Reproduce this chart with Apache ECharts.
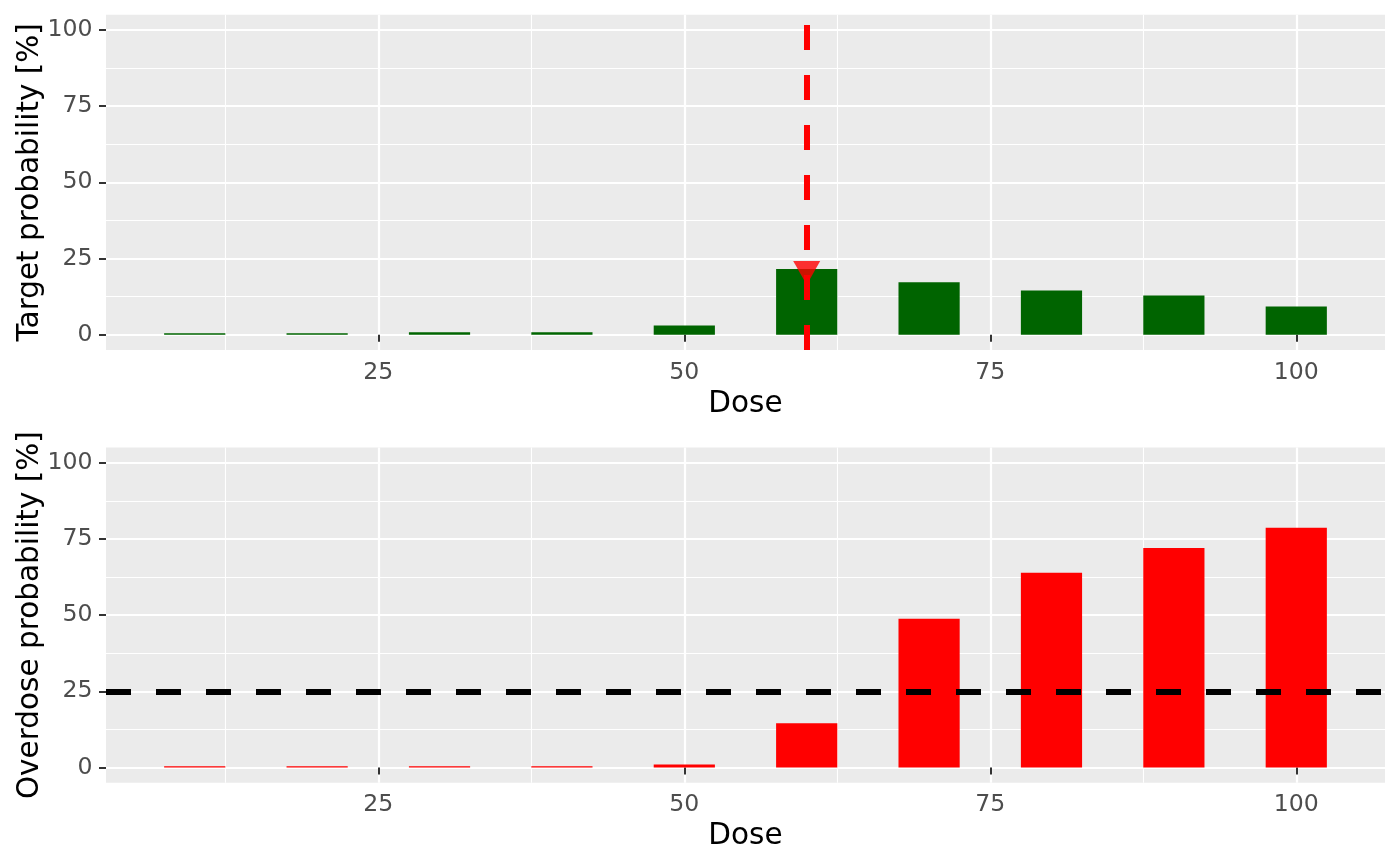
<!DOCTYPE html>
<html>
<head>
<meta charset="utf-8">
<title>Dose recommendation</title>
<script src="https://cdn.jsdelivr.net/npm/echarts@6/dist/echarts.min.js"></script>
<style>
    html, body { margin: 0; padding: 0; background: #fff; }
    #chart { width: 1400px; height: 866px; }
</style>
</head>
<body>
<div id="chart"></div>
<script>
// values (percent)
var doses = [10, 20, 30, 40, 50, 60, 70, 80, 90, 100];
var targetProb = [0.5, 0.5, 0.8, 0.8, 3.0, 21.6, 17.2, 14.5, 12.9, 9.3];
var overdoseProb = [0.4, 0.4, 0.4, 0.4, 1.0, 14.5, 48.8, 63.9, 72.0, 78.7];
var recommendedDose = 60;
var overdoseLimit = 25;
var doseTicks = [25, 50, 75, 100];
var probTicks = [0, 25, 50, 75, 100];

var FONT = 'DejaVu Sans';

function pairs(xs, ys) {
    return xs.map(function (x, i) { return [x, ys[i]]; });
}

function gridBox(top) {
    return {
        left: 106, right: 15, top: top, height: 335.3,
        show: true, backgroundColor: '#EBEBEB', borderWidth: 0,
        containLabel: false, outerBoundsMode: 'none'
    };
}

function doseAxis(gridIndex) {
    return {
        type: 'value', gridIndex: gridIndex,
        min: 2.75, max: 107.25, minInterval: 25, maxInterval: 25,
        name: 'Dose', nameLocation: 'middle', nameGap: 39, nameMoveOverlap: false,
        nameTextStyle: { fontFamily: FONT, fontSize: 29.5, color: '#000' },
        axisLine: { show: false },
        axisTick: { show: true, length: 7, customValues: doseTicks, lineStyle: { color: '#333333', width: 2 } },
        axisLabel: { customValues: doseTicks, fontFamily: FONT, fontSize: 23.6, color: '#4D4D4D', margin: 10.5 },
        splitLine: { show: true, lineStyle: { color: '#fff', width: 2.2 } },
        minorTick: { show: false, splitNumber: 2 },
        minorSplitLine: { show: true, lineStyle: { color: '#fff', width: 1.1 } }
    };
}

function probAxis(gridIndex, title) {
    return {
        type: 'value', gridIndex: gridIndex,
        min: -5, max: 105, minInterval: 25, maxInterval: 25,
        name: title, nameLocation: 'middle', nameGap: 61, nameMoveOverlap: false,
        nameTextStyle: { fontFamily: FONT, fontSize: 29.5, color: '#000' },
        axisLine: { show: false },
        axisTick: { show: true, length: 7, customValues: probTicks, lineStyle: { color: '#333333', width: 2 } },
        axisLabel: { customValues: probTicks, fontFamily: FONT, fontSize: 23.6, color: '#4D4D4D', margin: 13.5 },
        splitLine: { show: true, lineStyle: { color: '#fff', width: 2.2 } },
        minorTick: { show: false, splitNumber: 2 },
        minorSplitLine: { show: true, lineStyle: { color: '#fff', width: 1.1 } }
    };
}

var chart = echarts.init(document.getElementById('chart'));
chart.setOption({
    animation: false,
    backgroundColor: '#fff',
    grid: [gridBox(14.7), gridBox(447.5)],
    xAxis: [doseAxis(0), doseAxis(1)],
    yAxis: [probAxis(0, 'Target probability [%]'), probAxis(1, 'Overdose probability [%]')],
    series: [
        {
            type: 'bar', xAxisIndex: 0, yAxisIndex: 0,
            data: pairs(doses, targetProb),
            barWidth: '50%',
            itemStyle: { color: '#006400' },
            markLine: {
                silent: true, symbol: ['none', 'none'],
                label: { show: false },
                lineStyle: { color: '#FF0000', type: [25, 25], width: 6 },
                data: [{ xAxis: recommendedDose }]
            }
        },
        {
            // recommended dose marker on its target probability
            type: 'scatter', xAxisIndex: 0, yAxisIndex: 0, z: 5,
            data: [[recommendedDose, targetProb[doses.indexOf(recommendedDose)]]],
            symbol: 'triangle', symbolRotate: 180,
            symbolSize: [27, 23.6], symbolOffset: [0, 4],
            itemStyle: { color: '#FF0000' }
        },
        {
            type: 'bar', xAxisIndex: 1, yAxisIndex: 1,
            data: pairs(doses, overdoseProb),
            barWidth: '50%',
            itemStyle: { color: '#FF0000' },
            markLine: {
                silent: true, symbol: ['none', 'none'],
                label: { show: false },
                lineStyle: { color: '#000', type: [25, 25], width: 6 },
                data: [{ yAxis: overdoseLimit }]
            }
        }
    ]
});
</script>
</body>
</html>
